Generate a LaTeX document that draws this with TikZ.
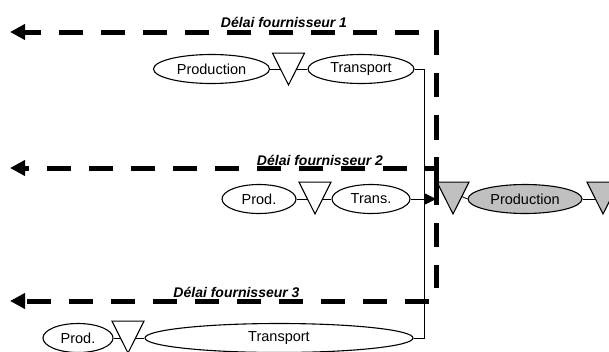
\documentclass[tikz,border=0pt]{standalone}
\usepackage{fontspec}
\setmainfont{Liberation Sans}
\usetikzlibrary{arrows.meta,shapes.geometric,backgrounds}
\definecolor{stockgray}{RGB}{192,192,192}

\begin{document}
\begin{tikzpicture}[x=1pt, y=-1pt,
  proc/.style={ellipse, draw, line width=1.1pt, fill=white, inner sep=0pt,
    minimum height=29pt, font=\fontsize{14.5}{16}\selectfont},
  stock/.style={regular polygon, regular polygon sides=3,
    shape border rotate=180, draw, line width=1.1pt, fill=white,
    inner sep=0pt, minimum size=37pt, yscale=1.15},
  link/.style={line width=0.8pt},
  delai/.style={line width=5pt, dash pattern=on 24pt off 18pt,
    -{Triangle[length=15pt,width=15pt]}},
  lbl/.style={font=\fontsize{14}{16}\selectfont\bfseries\itshape,
    anchor=base},
]
  \useasboundingbox (0,0) rectangle (609,351);

  % Supplier 1
  \node[proc, minimum width=116pt] (prod1) at (211.5,69) {Production};
  \node[stock] (st1) at (288.5,63.7) {};
  \node[proc, minimum width=106pt] (trans1) at (361,69) {Transport};

  % Supplier 2
  \node[proc, minimum width=74pt] (prod2) at (259,199) {Prod.};
  \node[stock] (st2) at (315,192.7) {};
  \node[proc, minimum width=78pt] (trans2) at (371,199) {Trans.};

  % Supplier 3
  \node[proc, minimum width=70pt] (prod3) at (78,338) {Prod.};
  \node[stock] (st3) at (128,331.7) {};
  \node[proc, minimum width=268pt] (trans3) at (279,338) {Transport};

  % Own production
  \node[stock, fill=stockgray] (gst1) at (453,192.7) {};
  \node[proc, fill=stockgray, minimum width=114pt] (gprod) at (525,199)
    {Production};
  \node[stock, fill=stockgray] (gst2) at (603,192.7) {};

  % Links
  \coordinate (bus) at (424,0);
  \begin{scope}[on background layer]
    \draw[link] (prod1.east) -- (trans1.west);
    \draw[link] (prod2.east) -- (trans2.west);
    \draw[link] (prod3.east) -- (trans3.west);
    \draw[link] (gst1.center) -- (gprod.west);
    \draw[link] (gprod.east) -- (gprod.east -| gst2.center);
  \end{scope}
  \draw[link] (trans1.east) -- (trans1.east -| bus) -- (trans3.east -| bus)
    -- (trans3.east);
  \draw[link, -{Triangle[length=11pt,width=11pt]}] (trans2.east)
    -- (trans2.east -| gst1.corner 3);

  % Lead times
  \coordinate (vtop) at (436,30);
  \coordinate (vbot) at (436,289);
  \coordinate (d1) at (436,32);
  \coordinate (a1) at (10,32);
  \coordinate (d2) at (436,168);
  \coordinate (a2) at (10,168);
  \coordinate (d3) at (429,301);
  \coordinate (a3) at (10,301);
  \draw[line width=5pt, dash pattern=on 25pt off 18pt on 24pt off 18pt
    on 25pt off 17pt on 48pt off 18pt on 24pt off 18pt on 23pt off 30pt]
    (vtop) -- (vbot);
  \draw[delai, dash phase=25pt] (d1) -- (a1);
  \draw[delai, dash phase=13pt] (d2) -- (a2);
  \draw[delai] (d3) -- (a3);

  \node[lbl] (lbl1) at (284,27) {Délai fournisseur 1};
  \node[lbl] (lbl2) at (320,165) {Délai fournisseur 2};
  \node[lbl] (lbl3) at (236.5,297) {Délai fournisseur 3};
\end{tikzpicture}
\end{document}
